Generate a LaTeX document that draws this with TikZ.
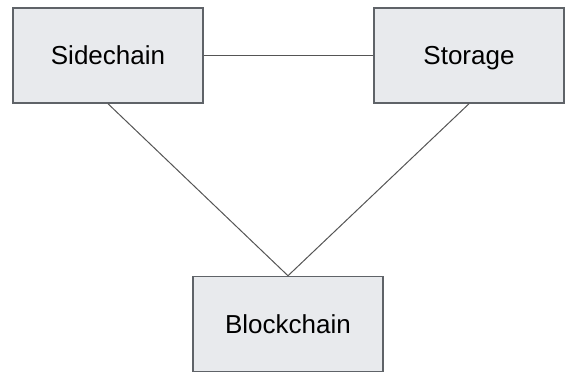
\documentclass[tikz,border=0pt]{standalone}
\usepackage{fontspec}
\setmainfont{Liberation Sans}
\definecolor{boxfill}{HTML}{E8EAED}
\definecolor{boxline}{HTML}{5F6368}
\definecolor{linkline}{HTML}{555555}
\tikzset{
    part/.style={draw=boxline, line width=1.5pt, fill=boxfill, minimum width=190pt, minimum height=95pt, inner sep=0pt, text height=22pt, text depth=3pt, font=\fontsize{26}{30}\selectfont},
    link/.style={draw=linkline, line width=1pt}
}
\begin{document}
\begin{tikzpicture}[x=1pt,y=-1pt]
    \useasboundingbox (0,0) rectangle (565,374);

    \node[part] (side)  at (108,55.5) {Sidechain};
    \node[part] (store) at (469,55.5) {Storage};
    \node[part] (chain) at (288,324)  {Blockchain};

    \draw[link] (side.east) -- (store.west);
    \draw[link] (side.south) -- (chain.north);
    \draw[link] (store.south) -- (chain.north);
\end{tikzpicture}
\end{document}
